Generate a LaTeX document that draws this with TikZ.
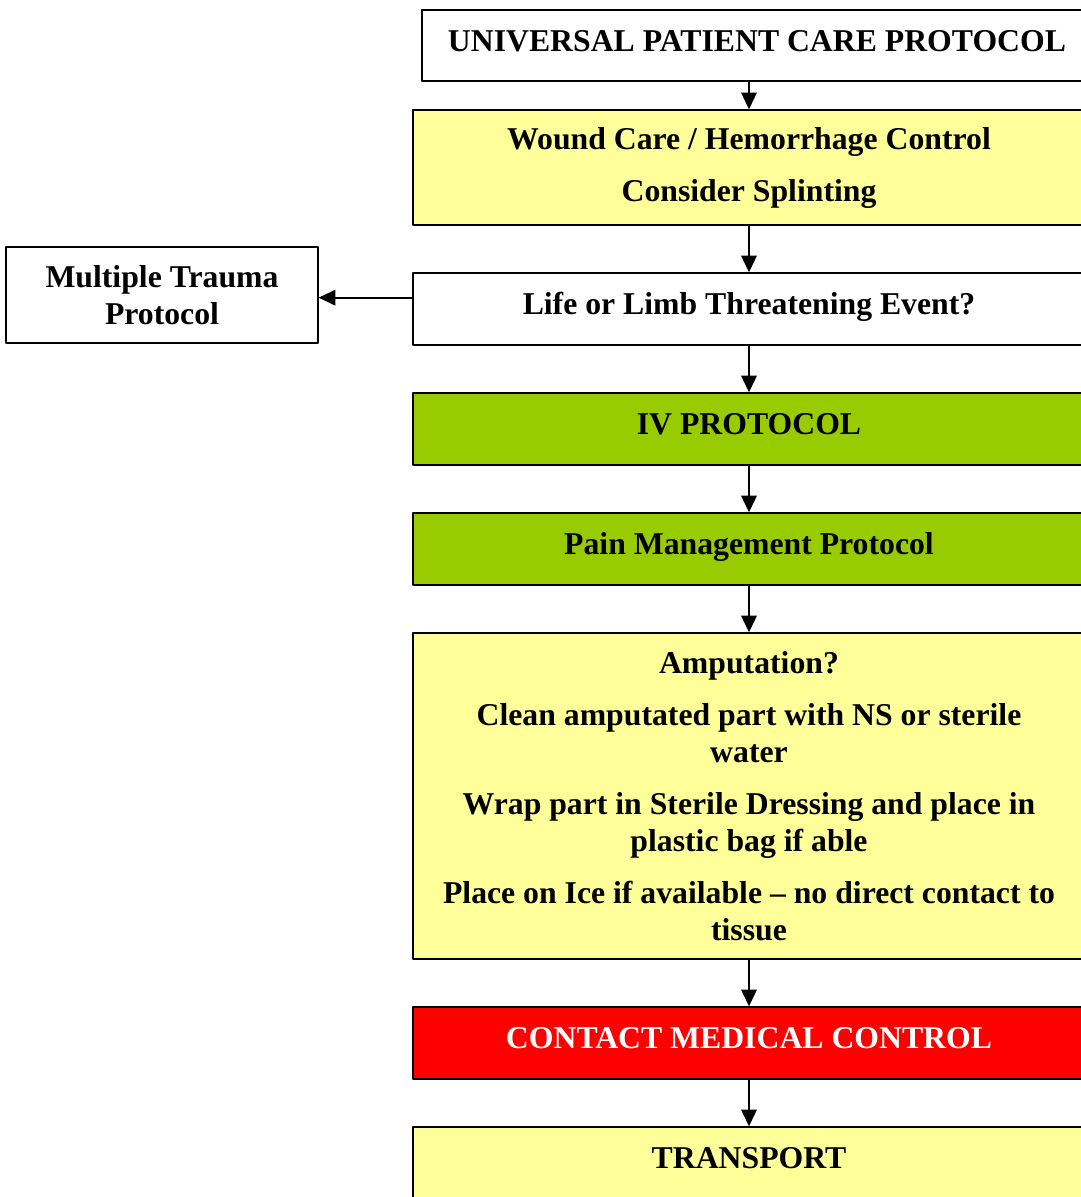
\documentclass[tikz,border=0pt]{standalone}
\usepackage{fontspec}
\setmainfont{Liberation Serif}
\usepackage{tikz}
\usetikzlibrary{arrows.meta}
\definecolor{ffff99}{rgb}{1.,1.,0.6}
\definecolor{99ccqq}{rgb}{0.6,0.8,0.}
\definecolor{ffqqqq}{rgb}{1.,0.,0.}

\begin{document}
\begin{tikzpicture}[line cap=round,line join=round,>={Triangle[length=12.5pt,width=11.5pt]},x=0.75pt,y=-0.75pt,
  box/.style={draw=black,line width=1pt,inner sep=0pt,align=center,minimum width=504pt,
    font=\bfseries\fontsize{23.8}{27.75}\selectfont},
  onebox/.style={box,minimum height=54pt,text height=16pt,text depth=7.5pt},
  flow/.style={->,line width=1.6pt}]
\useasboundingbox (0,0) rectangle (1081,1197);
\clip (0,0) rectangle (1081,1197);
\node[onebox,minimum width=502.5pt,minimum height=53.25pt] (upcp) at (757,45.5) {UNIVERSAL PATIENT CARE PROTOCOL};
\node[box,fill=ffff99,minimum height=86.25pt] (wound) at (749,167.5) {Wound Care / Hemorrhage Control\\[11.25pt]Consider Splinting};
\node[box,minimum width=234pt,minimum height=72pt] (mtp) at (162,295) {Multiple Trauma\\Protocol};
\node[onebox] (life) at (749,309) {Life or Limb Threatening Event?};
\node[onebox,fill=99ccqq] (iv) at (749,429) {IV PROTOCOL};
\node[onebox,fill=99ccqq] (pain) at (749,549) {Pain Management Protocol};
\node[box,fill=ffff99,minimum height=244.5pt] (amp) at (749,796) {Amputation?\\[11.25pt]Clean amputated part with NS or sterile\\water\\[11.25pt]Wrap part in Sterile Dressing and place in\\plastic bag if able\\[11.25pt]Place on Ice if available – no direct contact to\\tissue};
\node[onebox,fill=ffqqqq,text=white] (mcc) at (749,1043) {CONTACT MEDICAL CONTROL};
\node[onebox,fill=ffff99] (trans) at (749,1163) {TRANSPORT};
% connectors
\draw[flow] (wound.north |- upcp.south) -- (wound.north);
\draw[flow] (wound) -- (life);
\draw[flow] ([yshift=-2pt]life.west |- mtp.east) -- ([yshift=-2pt]mtp.east);
\draw[flow] (life) -- (iv);
\draw[flow] (iv) -- (pain);
\draw[flow] (pain) -- (amp);
\draw[flow] (amp) -- (mcc);
\draw[flow] (mcc) -- (trans);
\end{tikzpicture}
\end{document}
